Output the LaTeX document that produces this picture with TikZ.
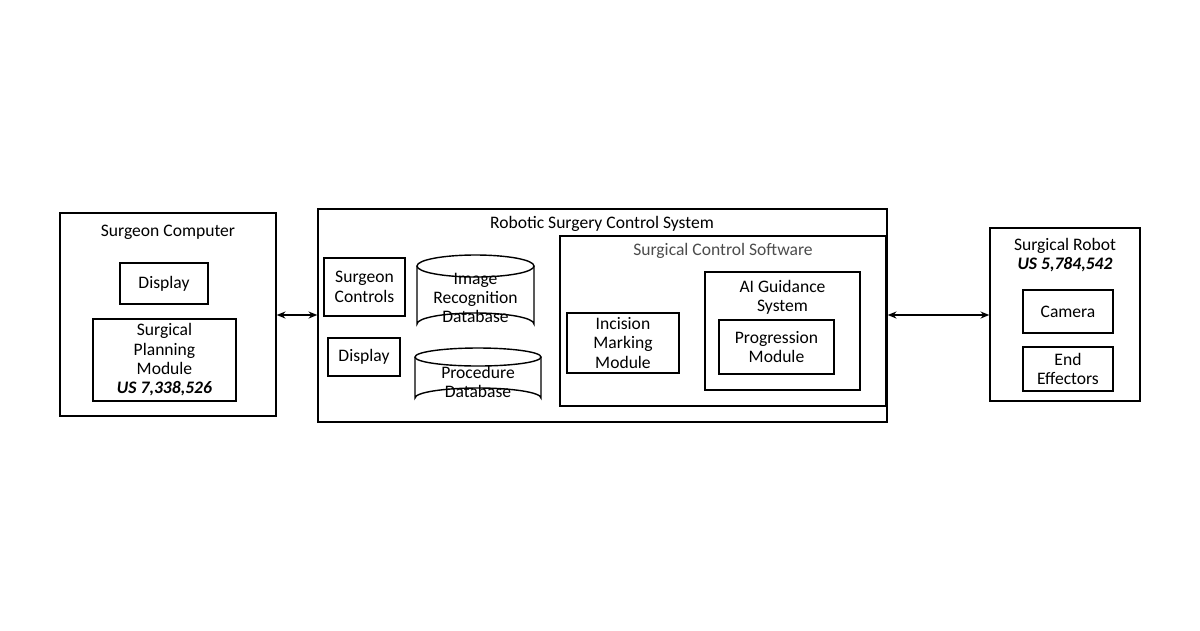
\documentclass[tikz,border=0pt]{standalone}
\usepackage{fontspec}
\setmainfont{Carlito}
\usetikzlibrary{arrows.meta}
\begin{document}
\begin{tikzpicture}[x=0.02cm,y=-0.02cm,
  box/.style={draw,thick,inner sep=0pt},
  txt/.style={font=\fontsize{10}{11}\selectfont,align=center},
  conn/.style={thick,{Stealth[length=5pt,width=4pt]}-{Stealth[length=5pt,width=4pt]}}]
\useasboundingbox (0,0) rectangle (1200,630);
\tikzset{rb/.style args={#1/#2}{}}
% Surgeon computer
\draw[thick] (60,213) rectangle (276,416);
\node[box,minimum width=216*0.02cm,minimum height=203*0.02cm,draw=none] (sc) at (168,314.5) {};
\node[txt] at (168,232) {Surgeon Computer};
\node[box,txt,minimum width=88*0.02cm,minimum height=41*0.02cm] (d1) at (164,283.5) {Display};
\node[box,txt,minimum width=143*0.02cm,minimum height=82*0.02cm] (spm) at (164.5,360) {Surgical\\Planning\\Module\\\textbf{\textit{US 7,338,526}}};
% Robotic surgery control system
\node[box,minimum width=569*0.02cm,minimum height=213*0.02cm] (rs) at (602.5,315.5) {};
\node[txt] at (602,224) {Robotic Surgery Control System};
\node[box,txt,minimum width=81*0.02cm,minimum height=58*0.02cm] (sctl) at (364.5,287) {Surgeon\\Controls};
\node[box,txt,minimum width=72*0.02cm,minimum height=38*0.02cm] (d2) at (364,357) {Display};
% cylinders
\draw[thick] (417,266) -- (417,324) arc[start angle=180,end angle=360,x radius=58.5,y radius=11] -- (534,266);
\draw[thick] (475.5,266) ellipse[x radius=58.5,y radius=11];
\node[txt] (idb) at (475.5,298) {Image\\Recognition\\Database};
\draw[thick] (415,357) -- (415,398) arc[start angle=180,end angle=360,x radius=63,y radius=10] -- (541,357);
\draw[thick] (478,357) ellipse[x radius=63,y radius=9];
\node[txt] (pdb) at (478,382) {Procedure\\Database};
% Surgical control software
\node[box,minimum width=326*0.02cm,minimum height=170*0.02cm] (scs) at (723,321) {};
\node[txt,gray!60!black] at (723,251) {Surgical Control Software};
\node[box,txt,minimum width=112*0.02cm,minimum height=60*0.02cm] (inc) at (623,343) {Incision\\Marking\\Module};
\node[box,minimum width=155*0.02cm,minimum height=118*0.02cm] (ai) at (782.5,331) {};
\node[txt] at (782.5,297) {AI Guidance\\System};
\node[box,txt,minimum width=115*0.02cm,minimum height=54*0.02cm] (prog) at (776.5,347) {Progression\\Module};
% Surgical robot
\node[box,minimum width=150*0.02cm,minimum height=173*0.02cm] (sr) at (1065,314.5) {};
\node[txt] at (1065,255) {Surgical Robot\\\textbf{\textit{US 5,784,542}}};
\node[box,txt,minimum width=90*0.02cm,minimum height=43*0.02cm] (cam) at (1068,311.5) {Camera};
\node[box,txt,minimum width=90*0.02cm,minimum height=44*0.02cm] (ee) at (1068,369) {End\\Effectors};
% connectors
\draw[conn] (sc.east |- 0,315) -- (rs.west |- 0,315);
\draw[conn] (rs.east |- 0,315) -- (sr.west |- 0,315);
\end{tikzpicture}
\end{document}
